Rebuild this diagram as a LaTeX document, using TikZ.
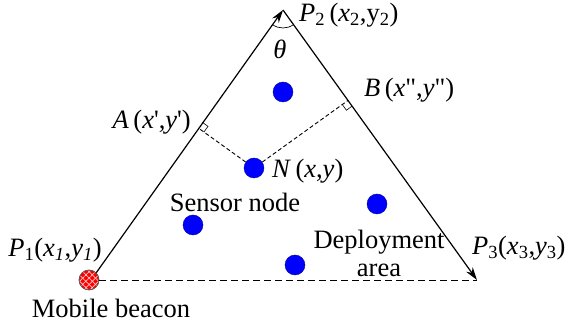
\documentclass[tikz,border=0pt]{standalone}
\usepackage{fontspec}
\setmainfont{Liberation Serif}
\usetikzlibrary{calc,angles,arrows.meta,patterns.meta}
\tikzset{
  side/.style={line width=1.2pt,-{Stealth[length=13pt,width=8pt]}},
  perp/.style={line width=0.9pt,dash pattern=on 4pt off 2.5pt},
  base/.style={line width=0.9pt,dash pattern=on 7pt off 4pt},
  dot/.style={circle,fill=blue,draw=blue!60!black,line width=0.4pt,minimum size=20pt,inner sep=0pt},
  lbl/.style={inner sep=0pt,font=\fontsize{26.5}{28}\selectfont},
  rmark/.style={line width=0.6pt}
}
\begin{document}
\begin{tikzpicture}[x=1pt,y=1pt]
\useasboundingbox (0,0) rectangle (566,329);
% corners of the deployment triangle
\coordinate (P1) at (89,49);
\coordinate (P2) at (283,319);
\coordinate (P3) at (477,49);
% sensor nodes
\node[dot] (N)  at (254,161) {};
\node[dot] (S1) at (283,237) {};
\node[dot] (S2) at (377,125) {};
\node[dot] (S3) at (193,104) {};
\node[dot] (S4) at (295,64) {};
% feet of the perpendiculars from N
\coordinate (A) at ($(P1)!(N)!(P2)$);
\coordinate (B) at ($(P2)!(N)!(P3)$);
% mobile beacon
\node[circle,minimum size=20pt,inner sep=0pt,draw=gray!70!black,line width=0.5pt,fill=red] (M) at (P1) {};
\fill[pattern={Lines[angle=45,distance=4.5pt,line width=0.7pt]},pattern color=white!80!red] (P1) circle (9.5pt);
\fill[pattern={Lines[angle=-45,distance=4.5pt,line width=0.7pt]},pattern color=white!80!red] (P1) circle (9.5pt);
\draw[gray!70!black,line width=0.5pt] (P1) circle (10pt);
% sides
\draw[base] (M.east) -- (P3);
\draw[side] (M.north east) -- (P2);
\draw[side] (P2) -- (P3);
% perpendiculars and right-angle marks
\draw[perp] (N) -- (A);
\draw[perp] (N) -- (B);
\draw[rmark] ($(A)!7pt!(P2)$) -- ($(A)!7pt!(P2)+($(A)!7pt!(N)$)-(A)$) -- ($(A)!7pt!(N)$);
\draw[rmark] ($(B)!7pt!(P3)$) -- ($(B)!7pt!(P3)+($(B)!7pt!(N)$)-(B)$) -- ($(B)!7pt!(N)$);
% apex angle
\pic[draw,line width=0.7pt,angle radius=18pt]{angle=P1--P2--P3};
% labels
\node[lbl] (th) at (280,280) {\textit{θ}};
\node[lbl,anchor=west] (L2) at (299,314) {\textit{P}\textsubscript{2}\,(\textit{x}\textsubscript{2},y\textsubscript{2})};
\node[lbl,anchor=west] (LB) at (364,239) {\textit{B}\,(\textit{x}\textquotedbl,\textit{y}\textquotedbl)};
\node[lbl,anchor=east] (LA) at (191,207) {\textit{A}\,(\textit{x}\textquotesingle,\textit{y}\textquotesingle)};
\node[lbl,anchor=west] (LN) at (272,158) {\textit{N}\,(\textit{x},\textit{y})};
\node[lbl] (LS) at (235,127) {Sensor node};
\node[lbl,align=center] (LD) at (379,76) {Deployment\\area};
\node[lbl,anchor=west] (L3) at (472,81) {\textit{P}\textsubscript{3}(\textit{x}\textsubscript{3},\textit{y}\textsubscript{3})};
\node[lbl] (L1) at (55,79) {\textit{P}\textsubscript{1}(\textit{x\textsubscript{1}},\textit{y\textsubscript{1}})};
\node[lbl] (LM) at (111,21) {Mobile beacon};
\end{tikzpicture}
\end{document}
